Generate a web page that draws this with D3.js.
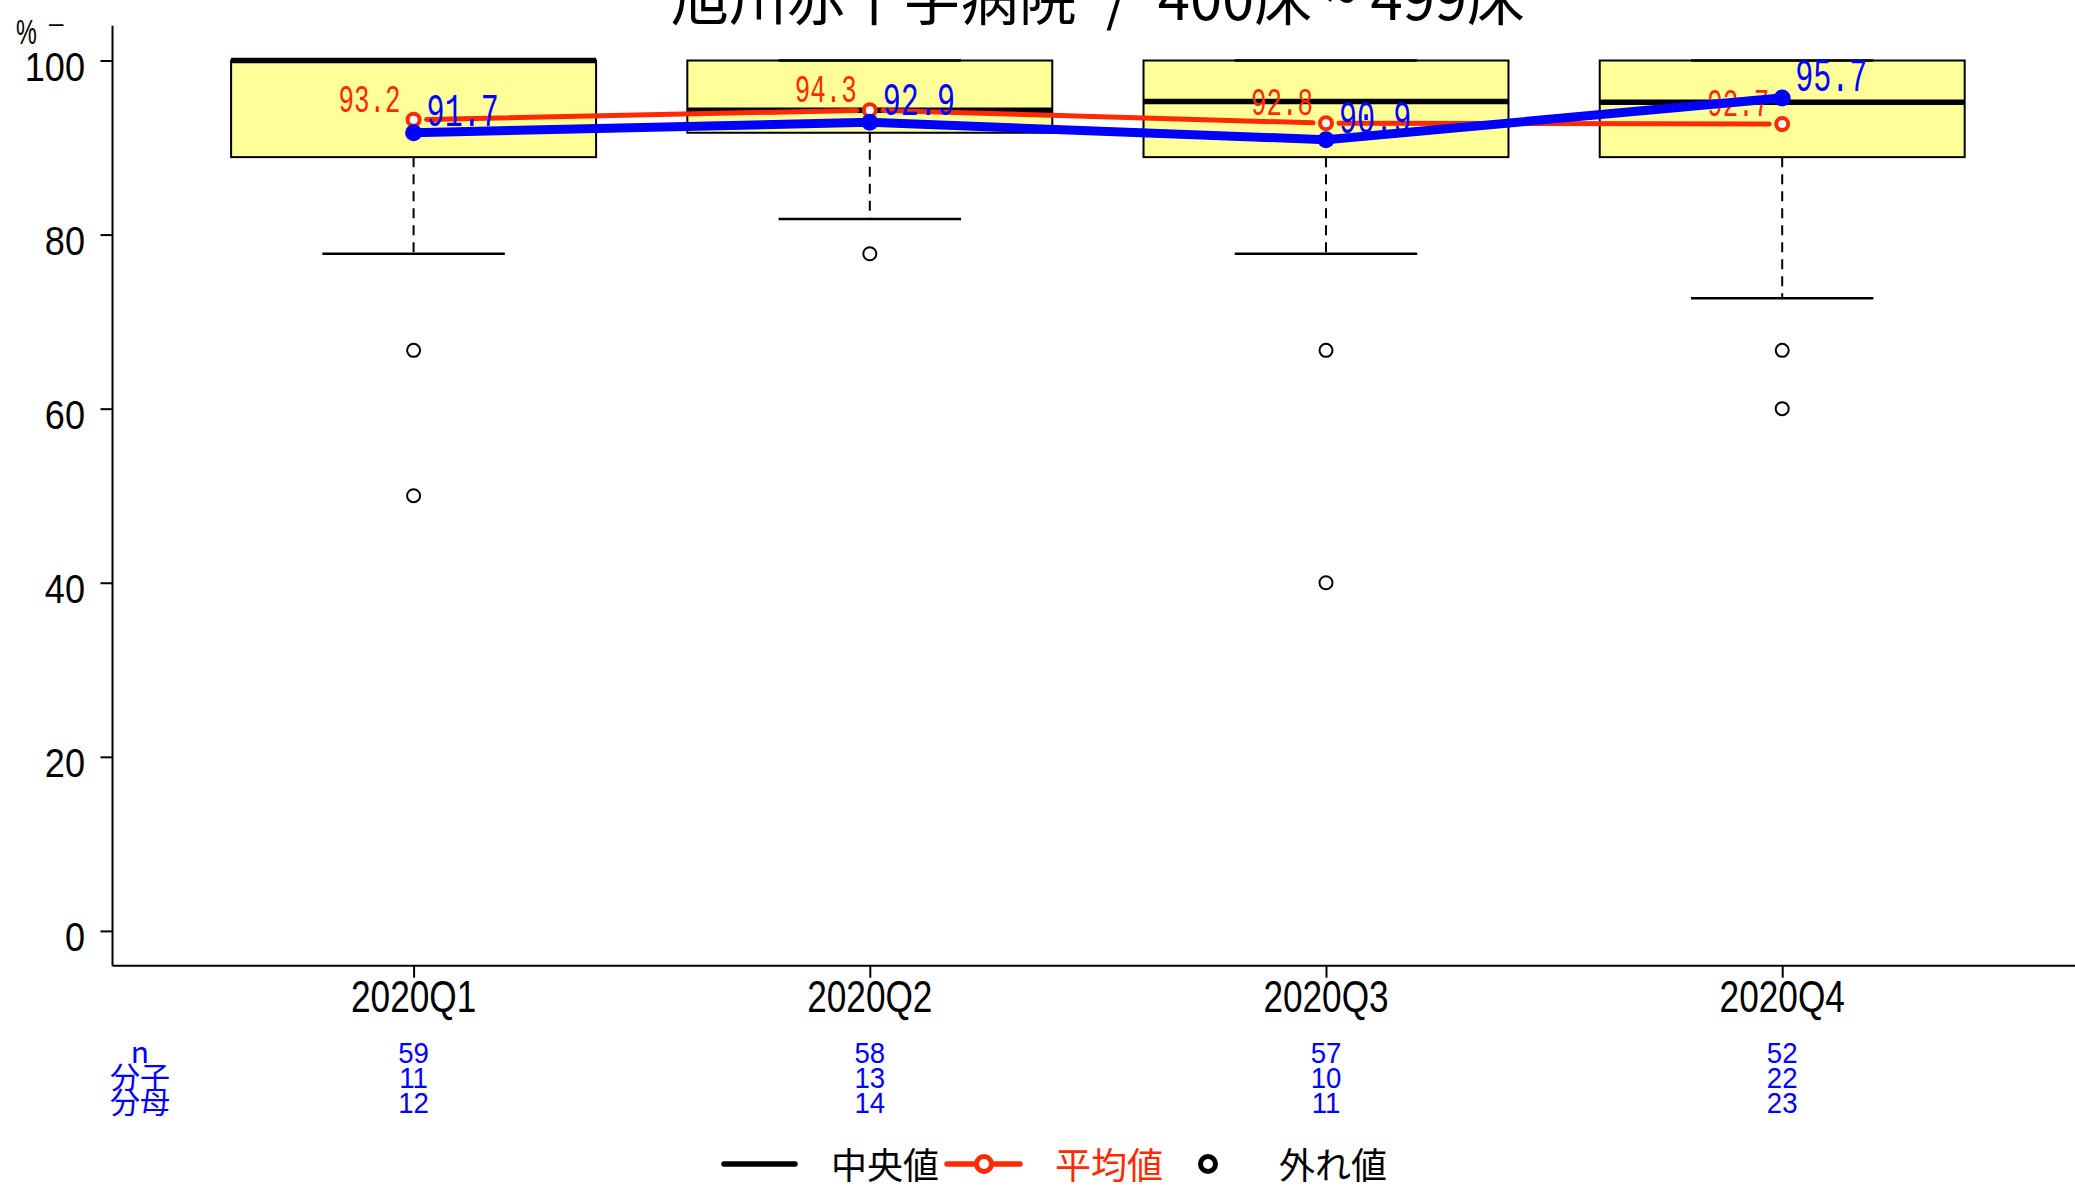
<!DOCTYPE html>
<html><head><meta charset="utf-8">
<script src="https://cdn.jsdelivr.net/npm/d3@7"></script>
<style>html,body{margin:0;padding:0;background:#fff;}svg{display:block;}</style>
</head><body>
<script>
const categories = ["2020Q1","2020Q2","2020Q3","2020Q4"];
const whiskerLow = [77.8, 81.8, 77.8, 72.7];
const boxLow = [88.9, 91.7, 88.9, 88.9];
const medians = [100, 94.3, 95.3, 95.2];
const boxHigh = [100, 100, 100, 100];
const whiskerHigh = [100, 100, 100, 100];
const outliers = [[66.7, 50], [77.8], [66.7, 40], [66.7, 60]];
const meanVals = [93.2, 94.3, 92.8, 92.7];
const rateVals = [91.7, 92.9, 90.9, 95.7];
const nVals = [59, 58, 57, 52];
const numerVals = [11, 13, 10, 22];
const denomVals = [12, 14, 11, 23];
const yTicks = [0, 20, 40, 60, 80, 100];
const rowLabels = ["n", "分子", "分母"];
const legendLabels = ["中央値", "平均値", "外れ値"];
const titleText = "旭川赤十字病院\u2002/\u2002400床 ~ 499床";

const W = 2075, H = 1186;
const RED = "#ff2a00", BLUE = "#0000ff";
const SANS = "'Liberation Sans', Arial, sans-serif";
const MONO = "'Liberation Mono', monospace";
const CJK = "'Noto Sans CJK JP', 'Noto Sans', sans-serif";

const svg = d3.select("body").append("svg").attr("width", W).attr("height", H);
svg.append("rect").attr("width", W).attr("height", H).attr("fill", "#fff");

const x = d3.scaleLinear().domain([0.34, 4.66]).range([112.5, 2083.3]);
const y = d3.scaleLinear().domain([-4, 104]).range([965.7, 25.7]);

function txt(g, px, py, s, o) {
  return g.append("text")
    .attr("transform", `translate(${px},${py}) scale(${o.sx || 1},1)`)
    .attr("text-anchor", o.anchor || "start")
    .attr("font-family", o.family || SANS)
    .attr("font-size", o.size)
    .attr("fill", o.fill || "#000")
    .attr("xml:space", "preserve")
    .text(s);
}

// title
txt(svg, 1098, 20, titleText, {size: 58, anchor: "middle", family: CJK});

// axes
const g = svg.append("g");
const yAxis = d3.axisLeft(y).tickValues(yTicks).tickSize(12).tickFormat("");
const ya = g.append("g").attr("transform", `translate(${x(0.34)},0)`).call(yAxis);
ya.select(".domain").attr("d", `M0,${y(104)}V${y(-4)}`).attr("stroke-width", 2);
ya.selectAll(".tick line").attr("stroke-width", 2);
yTicks.forEach(v => txt(g, 85, y(v) + 20, String(v), {size: 41, anchor: "end", sx: 0.88}));

const xAxis = d3.axisBottom(x).tickValues([1,2,3,4]).tickSize(12).tickFormat("");
const xa = g.append("g").attr("transform", `translate(0,${y(-4)})`).call(xAxis);
xa.select(".domain").attr("d", `M${x(0.34)},0H${W}`).attr("stroke-width", 2);
xa.selectAll(".tick line").attr("stroke-width", 2);
categories.forEach((c, i) => txt(g, x(i + 1), 1012, c, {size: 44, anchor: "middle", sx: 0.8}));

// % label
txt(svg, 16, 44, "%", {size: 36, sx: 0.65});
txt(svg, 49, 32, "–", {size: 26});

// boxes
const bx = svg.append("g");
categories.forEach((c, i) => {
  const cx = x(i + 1);
  bx.append("line").attr("x1", cx).attr("x2", cx).attr("y1", y(boxLow[i])).attr("y2", y(whiskerLow[i]))
    .attr("stroke", "#000").attr("stroke-width", 2).attr("stroke-dasharray", "10,7");
  bx.append("line").attr("x1", cx).attr("x2", cx).attr("y1", y(boxHigh[i])).attr("y2", y(whiskerHigh[i]))
    .attr("stroke", "#000").attr("stroke-width", 2).attr("stroke-dasharray", "10,7");
  bx.append("rect").attr("x", x(i + 1 - 0.4)).attr("width", x(i + 1.4) - x(i + 0.6))
    .attr("y", y(boxHigh[i])).attr("height", y(boxLow[i]) - y(boxHigh[i]))
    .attr("fill", "#ffff99").attr("stroke", "#000").attr("stroke-width", 2);
  [whiskerLow[i], whiskerHigh[i]].forEach(v => {
    bx.append("line").attr("x1", x(i + 0.8)).attr("x2", x(i + 1.2)).attr("y1", y(v)).attr("y2", y(v))
      .attr("stroke", "#000").attr("stroke-width", 2.5);
  });
  bx.append("line").attr("x1", x(i + 0.6)).attr("x2", x(i + 1.4)).attr("y1", y(medians[i])).attr("y2", y(medians[i]))
    .attr("stroke", "#000").attr("stroke-width", 5.5);
  outliers[i].forEach(v => {
    bx.append("circle").attr("cx", cx).attr("cy", y(v)).attr("r", 6.5)
      .attr("fill", "none").attr("stroke", "#000").attr("stroke-width", 2);
  });
});

// mean (red) line with gaps
const red = svg.append("g");
const rp = meanVals.map((v, i) => [x(i + 1), y(v)]);
for (let i = 0; i < rp.length - 1; i++) {
  const [x1, y1] = rp[i], [x2, y2] = rp[i + 1];
  const d = Math.hypot(x2 - x1, y2 - y1), gap = 13;
  const ux = (x2 - x1) / d, uy = (y2 - y1) / d;
  red.append("line").attr("x1", x1 + ux * gap).attr("y1", y1 + uy * gap)
    .attr("x2", x2 - ux * gap).attr("y2", y2 - uy * gap)
    .attr("stroke", RED).attr("stroke-width", 5).attr("stroke-linecap", "round");
}
rp.forEach(p => red.append("circle").attr("cx", p[0]).attr("cy", p[1]).attr("r", 6)
  .attr("fill", "#fff").attr("stroke", RED).attr("stroke-width", 4));
meanVals.forEach((v, i) => txt(red, x(i + 1) - 13, y(v) - 8, v.toFixed(1), {size: 38, anchor: "end", family: MONO, fill: RED, sx: 0.68}));

// rate (blue) line
const blue = svg.append("g");
blue.append("path").datum(rateVals)
  .attr("d", d3.line().x((d, i) => x(i + 1)).y(d => y(d)))
  .attr("fill", "none").attr("stroke", BLUE).attr("stroke-width", 9).attr("stroke-linejoin", "round");
rateVals.forEach((v, i) => blue.append("circle").attr("cx", x(i + 1)).attr("cy", y(v)).attr("r", 8.5).attr("fill", BLUE));
rateVals.forEach((v, i) => txt(blue, x(i + 1) + 13, y(v) - 7, v.toFixed(1), {size: 47, family: MONO, fill: BLUE, sx: 0.64}));

// bottom table
const tb = svg.append("g");
const rowsY = [1063, 1088, 1113];
rowLabels.forEach((l, r) => txt(tb, 140, rowsY[r], l, {size: 30, anchor: "middle", family: CJK, fill: BLUE}));
[nVals, numerVals, denomVals].forEach((arr, r) => {
  arr.forEach((v, i) => txt(tb, x(i + 1), rowsY[r], String(v), {size: 30, anchor: "middle", fill: BLUE, sx: 0.92}));
});

// legend
const lg = svg.append("g");
const ly = 1164;
lg.append("line").attr("x1", 724).attr("x2", 795).attr("y1", ly).attr("y2", ly)
  .attr("stroke", "#000").attr("stroke-width", 5.5).attr("stroke-linecap", "round");
txt(lg, 831, 1179, legendLabels[0], {size: 36, family: CJK});
lg.append("line").attr("x1", 947).attr("x2", 1020).attr("y1", ly).attr("y2", ly)
  .attr("stroke", RED).attr("stroke-width", 5.5).attr("stroke-linecap", "round");
lg.append("circle").attr("cx", 984).attr("cy", ly).attr("r", 7.5).attr("fill", "#fff").attr("stroke", RED).attr("stroke-width", 5);
txt(lg, 1055, 1179, legendLabels[1], {size: 36, family: CJK, fill: RED});
lg.append("circle").attr("cx", 1208).attr("cy", ly).attr("r", 7.5).attr("fill", "#fff").attr("stroke", "#000").attr("stroke-width", 5);
txt(lg, 1279, 1179, legendLabels[2], {size: 36, family: CJK});
</script>
</body></html>
